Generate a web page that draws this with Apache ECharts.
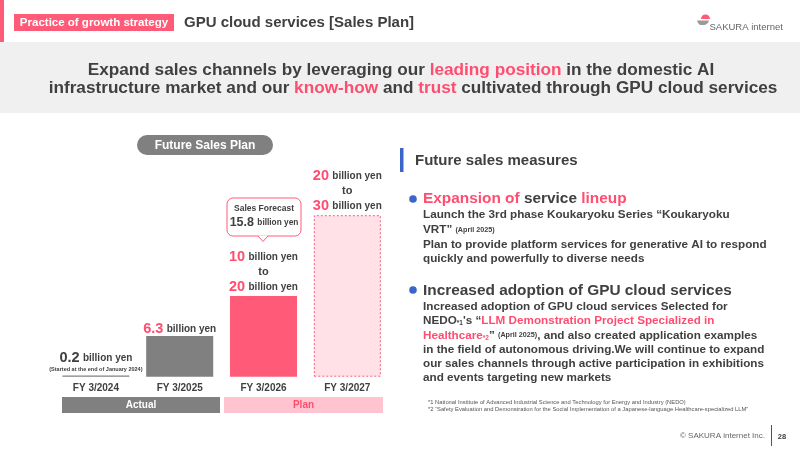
<!DOCTYPE html>
<html><head><meta charset="utf-8">
<script src="https://cdn.jsdelivr.net/npm/echarts@6/dist/echarts.min.js"></script>
<style>html,body{margin:0;padding:0;background:#fff}#c{width:800px;height:450px}</style>
</head><body><div id="c"></div>
<script>
// ---- data ----
const categories = ['FY 3/2024', 'FY 3/2025', 'FY 3/2026', 'FY 3/2027'];
const barValues = [0.2, 6.3, 12.5, 25];          // drawn bar heights (billion yen)
const labelLow = ['0.2', '6.3', '10', '20'];      // label: low value
const labelHigh = [null, null, '20', '30'];       // label: high value of range
const periodTags = ['Actual', 'Actual', 'Plan', 'Plan'];
const forecastValue = '15.8';
const unit = 'billion yen';

const PINK = '#ff4d70', PINKFILL = '#ff5a78', DARK = '#404040', GREY = '#808080';
const FF = '"Liberation Sans", Arial, Helvetica, sans-serif';

const chart = echarts.init(document.getElementById('c'), null, {renderer: 'canvas'});

function barLabel(i) {
  if (labelHigh[i]) {
    return '{n|' + labelLow[i] + '} {u|' + unit + '}\n{t|to}\n{n|' + labelHigh[i] + '} {u|' + unit + '}';
  }
  if (i === 0) {
    return '{d|' + labelLow[i] + '} {u|' + unit + '}\n{s|(Started at the end of January 2024)}';
  }
  return '{n|' + labelLow[i] + '} {u|' + unit + '}';
}
const labelDistance = [2.5, -0.5, 1.5, 1.5];

const barStyles = [
  {color: GREY},
  {color: GREY},
  {color: PINKFILL},
  {color: '#ffe1e7', borderColor: PINKFILL, borderWidth: 1, borderType: [2, 2]}
];

const data = barValues.map((v, i) => ({
  value: v,
  itemStyle: barStyles[i],
  label: {formatter: barLabel(i), distance: labelDistance[i]}
}));

function T(x, y, text, style) {
  return {type: 'text', x: x, y: y, silent: true,
    style: Object.assign({text: text, fontFamily: FF, fill: DARK, align: 'left', textAlign: 'left',
      verticalAlign: 'middle', textVerticalAlign: 'middle'}, style)};
}
const BS = 11.7;
const bodyStyle = {fontSize: BS, fontWeight: 'bold', rich: {
  p: {fontSize: BS, fontWeight: 'bold', fill: PINK, color: PINK},
  s: {fontSize: 7.2, fontWeight: 'bold', fill: DARK, color: DARK},
  sub: {fontSize: 6.5, fontWeight: 'bold', fill: DARK, color: DARK, padding: [5, 0, 0, 0]},
  sp: {fontSize: 6.5, fontWeight: 'bold', fill: PINK, color: PINK, padding: [5, 0, 0, 0]}
}};
const bannerRich = {p: {fontSize: 17.2, fontWeight: 'bold', fill: PINK, color: PINK}};
const HS = 15.4;

const graphics = [
  // header
  {type: 'rect', shape: {x: 0, y: 0, width: 4, height: 42}, style: {fill: PINKFILL}},
  {type: 'rect', shape: {x: 0, y: 42, width: 800, height: 71}, style: {fill: '#f0f0f0'}},
  {type: 'rect', shape: {x: 14, y: 14, width: 160, height: 17}, style: {fill: PINKFILL}},
  T(94, 22.5, 'Practice of growth strategy', {fontSize: 11.5, fontWeight: 'bold', fill: '#fff', align: 'center', textAlign: 'center'}),
  T(184, 23, 'GPU cloud services [Sales Plan]', {fontSize: 15, fontWeight: 'bold', fill: DARK}),
  // logo
  {type: 'sector', shape: {cx: 705.5, cy: 19, r0: 0, r: 4.5, startAngle: Math.PI, endAngle: 2 * Math.PI}, style: {fill: PINKFILL}},
  {type: 'polygon', shape: {points: [[697, 20.5], [709, 20.5], [708, 23], [705, 25], [700, 25], [698, 23]]}, style: {fill: '#9a9a9a'}},
  T(709.5, 27.5, 'SAKURA internet', {fontSize: 9.5, fill: '#666'}),
  // banner text
  T(401, 70.5, 'Expand sales channels by leveraging our {p|leading position} in the domestic AI',
    {fontSize: 17.2, fontWeight: 'bold', align: 'center', textAlign: 'center', rich: bannerRich}),
  T(413, 88, 'infrastructure market and our {p|know-how} and {p|trust} cultivated through GPU cloud services',
    {fontSize: 17.2, fontWeight: 'bold', align: 'center', textAlign: 'center', rich: bannerRich}),
  // future sales plan pill
  {type: 'rect', shape: {x: 137, y: 135, width: 136, height: 20, r: 10}, style: {fill: GREY}},
  T(205, 145.5, 'Future Sales Plan', {fontSize: 12, fontWeight: 'bold', fill: '#fff', align: 'center', textAlign: 'center'}),
  // callout
  {type: 'rect', shape: {x: 227, y: 198, width: 74, height: 38, r: 6}, style: {fill: '#fff', stroke: PINKFILL, lineWidth: 1}},
  {type: 'polygon', shape: {points: [[258, 235.5], [263, 241.5], [268, 235.5]]}, style: {fill: '#fff'}},
  {type: 'polyline', shape: {points: [[258, 236], [263, 241.5], [268, 236]]}, style: {stroke: PINKFILL, lineWidth: 1, fill: null}},
  T(264, 209, 'Sales Forecast', {fontSize: 8.5, fontWeight: 'bold', fill: DARK, align: 'center', textAlign: 'center'}),
  T(264, 223, '{b|' + forecastValue + '} {u|' + unit + '}', {fontSize: 12, fontWeight: 'bold', align: 'center', textAlign: 'center',
    rich: {b: {fontSize: 12.5, fontWeight: 'bold', fill: DARK, color: DARK}, u: {fontSize: 8.3, fontWeight: 'bold', fill: DARK, color: DARK}}}),
  // period bands
  {type: 'rect', shape: {x: 62, y: 397, width: 158, height: 16}, style: {fill: GREY}},
  T(141, 405, periodTags[0], {fontSize: 10, fontWeight: 'bold', fill: '#fff', align: 'center', textAlign: 'center'}),
  {type: 'rect', shape: {x: 224, y: 397, width: 159, height: 16}, style: {fill: '#ffc4cf'}},
  T(303.5, 405, periodTags[2], {fontSize: 10, fontWeight: 'bold', fill: PINK, align: 'center', textAlign: 'center'}),
  // right side
  {type: 'rect', shape: {x: 400, y: 148, width: 3.5, height: 24}, style: {fill: '#3a66cc'}},
  T(415, 161, 'Future sales measures', {fontSize: 15, fontWeight: 'bold', fill: DARK}),
  {type: 'circle', shape: {cx: 413, cy: 199, r: 3.8}, style: {fill: '#3a66cc'}},
  T(423, 199, '{p|Expansion of} service {p|lineup}', {fontSize: HS, fontWeight: 'bold', rich: {p: {fontSize: HS, fontWeight: 'bold', fill: PINK, color: PINK}}}),
  T(423, 215, 'Launch the 3rd phase Koukaryoku Series “Koukaryoku', bodyStyle),
  T(423, 230, 'VRT” {s|(April 2025)}', bodyStyle),
  T(423, 245, 'Plan to provide platform services for generative AI to respond', bodyStyle),
  T(423, 258.5, 'quickly and powerfully to diverse needs', bodyStyle),
  {type: 'circle', shape: {cx: 413, cy: 290, r: 3.8}, style: {fill: '#3a66cc'}},
  T(423, 290.5, 'Increased adoption of GPU cloud services', {fontSize: HS, fontWeight: 'bold'}),
  T(423, 306.5, 'Increased adoption of GPU cloud services Selected for', bodyStyle),
  T(423, 321, 'NEDO{sub|*1}\'s “{p|LLM Demonstration Project Specialized in}', bodyStyle),
  T(423, 335.5, '{p|Healthcare}{sp|*2}” {s|(April 2025)}, and also created application examples', bodyStyle),
  T(423, 350, 'in the field of autonomous driving.We will continue to expand', bodyStyle),
  T(423, 364, 'our sales channels through active participation in exhibitions', bodyStyle),
  T(423, 378, 'and events targeting new markets', bodyStyle),
  T(428, 402.5, '*1 National Institute of Advanced Industrial Science and Technology for Energy and Industry (NEDO)', {fontSize: 5.8, fill: '#555'}),
  T(428, 409.5, '*2 “Safety Evaluation and Demonstration for the Social Implementation of a Japanese-language Healthcare-specialized LLM”', {fontSize: 5.8, fill: '#555'}),
  // footer
  T(765, 436, '© SAKURA internet Inc.', {fontSize: 8, fill: '#666', align: 'right', textAlign: 'right'}),
  {type: 'rect', shape: {x: 771, y: 425, width: 1, height: 21}, style: {fill: '#555'}},
  T(782, 436.5, '28', {fontSize: 7.5, fontWeight: 'bold', fill: DARK, align: 'center', textAlign: 'center'})
];

chart.setOption({
  animation: false,
  backgroundColor: '#fff',
  grid: {left: 54, right: 410.8, top: 182.9, bottom: 73.3, containLabel: false},
  xAxis: {
    type: 'category', data: categories,
    axisLine: {show: false}, axisTick: {show: false},
    axisLabel: {fontFamily: FF, fontSize: 10, fontWeight: 'bold', color: DARK, margin: 7}
  },
  yAxis: {type: 'value', min: 0, max: 30, show: false, splitLine: {show: false}},
  series: [{
    type: 'bar', data: data, barCategoryGap: '20%',
    label: {
      show: true, position: 'top', fontFamily: FF,
      rich: {
        n: {fontSize: 14.5, fontWeight: 'bold', color: PINK, lineHeight: 15, fontFamily: FF},
        d: {fontSize: 14.5, fontWeight: 'bold', color: DARK, lineHeight: 15, fontFamily: FF},
        u: {fontSize: 10, fontWeight: 'bold', color: DARK, lineHeight: 15, fontFamily: FF},
        t: {fontSize: 11, fontWeight: 'bold', color: DARK, lineHeight: 15, fontFamily: FF},
        s: {fontSize: 5.5, fontWeight: 'bold', color: DARK, lineHeight: 7, fontFamily: FF}
      }
    }
  }],
  graphic: graphics
});
</script></body></html>
